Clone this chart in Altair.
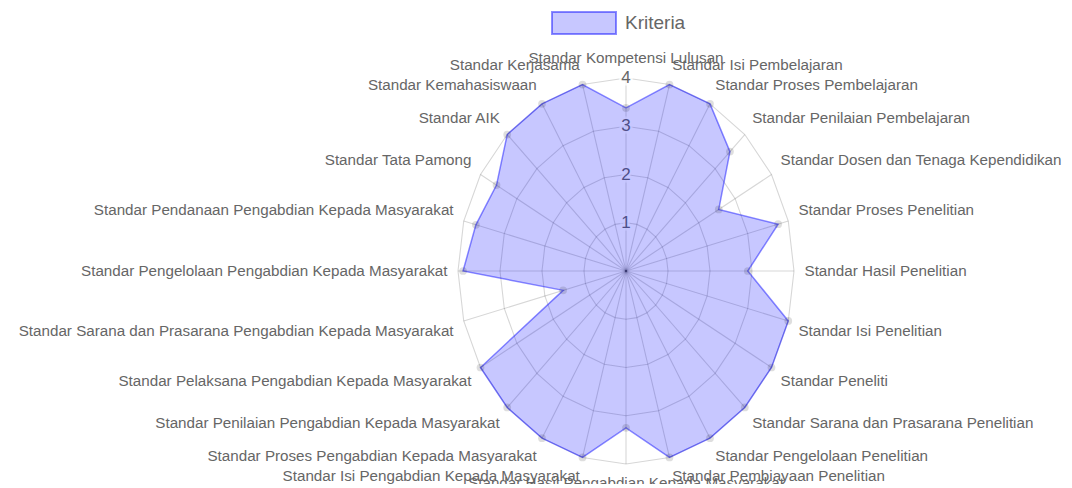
import numpy as np
import pandas as pd
import altair as alt

# ---------------- data ----------------
categories = [
    "Standar Kompetensi Lulusan",
    "Standar Isi Pembelajaran",
    "Standar Proses Pembelajaran",
    "Standar Penilaian Pembelajaran",
    "Standar Dosen dan Tenaga Kependidikan",
    "Standar Proses Penelitian",
    "Standar Hasil Penelitian",
    "Standar Isi Penelitian",
    "Standar Peneliti",
    "Standar Sarana dan Prasarana Penelitian",
    "Standar Pengelolaan Penelitian",
    "Standar Pembiayaan Penelitian",
    "Standar Hasil Pengabdian Kepada Masyarakat",
    "Standar Isi Pengabdian Kepada Masyarakat",
    "Standar Proses Pengabdian Kepada Masyarakat",
    "Standar Penilaian Pengabdian Kepada Masyarakat",
    "Standar Pelaksana Pengabdian Kepada Masyarakat",
    "Standar Sarana dan Prasarana Pengabdian Kepada Masyarakat",
    "Standar Pengelolaan Pengabdian Kepada Masyarakat",
    "Standar Pendanaan Pengabdian Kepada Masyarakat",
    "Standar Tata Pamong",
    "Standar AIK",
    "Standar Kemahasiswaan",
    "Standar Kerjasama",
]
values = [3.38, 4.0, 4.0, 3.5, 2.55, 3.75, 2.9, 4.0, 4.0, 4.0, 4.0, 4.0,
          3.25, 4.0, 4.0, 4.0, 4.0, 1.55, 3.88, 3.7, 3.56, 4.0, 4.0, 4.0]
tick_values = [1, 2, 3, 4]
series_name = "Kriteria"

# ---------------- layout constants ----------------
W, H = 1056, 472
CX, CY = 618, 263          # centre inside the view (px)
PX_X, PX_Y = 42.0, 48.25   # px per unit (image is stretched vertically)
XDOM = [-CX / PX_X, (W - CX) / PX_X]
YDOM = [(CY - H) / PX_Y, CY / PX_Y]
R_MAX = max(tick_values)
R_LAB = 4.25
FONT = "Liberation Sans"
FILL = "rgba(0,0,255,0.22)"
STROKE = "rgba(0,0,255,0.45)"

n = len(categories)
ang = np.arange(n) * 360.0 / n
rad = np.deg2rad(ang)

xs = alt.Scale(domain=XDOM, nice=False, zero=False)
ys = alt.Scale(domain=YDOM, nice=False, zero=False)
X = lambda f="x": alt.X(f"{f}:Q", scale=xs, axis=None)
Y = lambda f="y": alt.Y(f"{f}:Q", scale=ys, axis=None)

# polygon of the series
idx_c = list(range(n)) + [0]
poly = pd.DataFrame({
    "order": list(range(n + 1)),
    "cat": [categories[i] for i in idx_c],
    "value": [values[i] for i in idx_c],
    "series": series_name,
})
poly["x"] = poly["value"] * np.sin(rad[idx_c])
poly["y"] = poly["value"] * np.cos(rad[idx_c])

# rings
ring_rows = []
for k in tick_values:
    for j, i in enumerate(idx_c):
        ring_rows.append({"level": k, "order": j,
                          "x": k * np.sin(rad[i]), "y": k * np.cos(rad[i])})
rings_df = pd.DataFrame(ring_rows)

# spokes
spokes_df = pd.DataFrame({
    "x": 0.0, "y": 0.0,
    "x2": R_MAX * np.sin(rad), "y2": R_MAX * np.cos(rad),
})

# ticks
ticks_df = pd.DataFrame({"x": 0.0, "y": [float(t) for t in tick_values],
                         "label": [str(t) for t in tick_values]})

# labels
lab = pd.DataFrame({"cat": categories, "angle": ang})
lab["x"] = R_LAB * np.sin(rad)
lab["y"] = R_LAB * np.cos(rad)


def group(a):
    if a == 0:
        return "center-bottom"
    if a == 180:
        return "center-top"
    if a == 90:
        return "left-middle"
    if a == 270:
        return "right-middle"
    if a < 90:
        return "left-bottom"
    if a < 180:
        return "left-top"
    if a < 270:
        return "right-top"
    return "right-bottom"


lab["grp"] = [group(a) for a in ang]

spokes = alt.Chart(spokes_df).mark_rule(color="#000000", opacity=0.16, strokeWidth=1.1).encode(
    x=X(), y=Y(), x2="x2:Q", y2="y2:Q")

rings = alt.Chart(rings_df).mark_line(color="#000000", opacity=0.16, strokeWidth=1.1).encode(
    x=X(), y=Y(), detail="level:N", order="order:Q")

tick_halo = alt.Chart(ticks_df).mark_text(
    font=FONT, fontSize=17, stroke="white", strokeWidth=5, strokeOpacity=0.75,
    fill="white", fillOpacity=0.75, align="center", baseline="middle").encode(
    x=X(), y=Y(), text="label:N")

tick_text = alt.Chart(ticks_df).mark_text(
    font=FONT, fontSize=17, color="#666666", align="center", baseline="middle").encode(
    x=X(), y=Y(), text="label:N")

polygon = alt.Chart(poly).mark_line(fill=FILL, strokeWidth=1.5).encode(
    x=X(), y=Y(), order="order:Q",
    color=alt.Color("series:N", scale=alt.Scale(range=[STROKE]),
                    legend=alt.Legend(title=None, orient="none", legendX=543, legendY=-18,
                                      symbolType="M-1,-0.34H1V0.34H-1Z", symbolSize=4096,
                                      symbolStrokeWidth=2,
                                      labelFontSize=19, labelColor="#666666", labelFont=FONT,
                                      labelOffset=8, padding=0)))

points = alt.Chart(poly[poly["order"] < n]).mark_circle(
    size=60, color="#000000", opacity=0.13).encode(x=X(), y=Y())

label_layers = []
for g in sorted(set(lab["grp"])):
    a, b = g.split("-")
    label_layers.append(
        alt.Chart(lab).transform_filter(alt.datum.grp == g).mark_text(
            font=FONT, fontSize=15.2, color="#666666", align=a, baseline=b).encode(
            x=X(), y=Y(), text="cat:N"))

chart = alt.layer(spokes, rings, tick_halo, tick_text, polygon, points, *label_layers).properties(
    width=W, height=H, autosize="none",
    padding={"left": 0, "top": 0, "right": 0, "bottom": 4}
).configure_view(stroke=None)

chart.save("out.html", embed_options={"renderer": "svg", "actions": False})
